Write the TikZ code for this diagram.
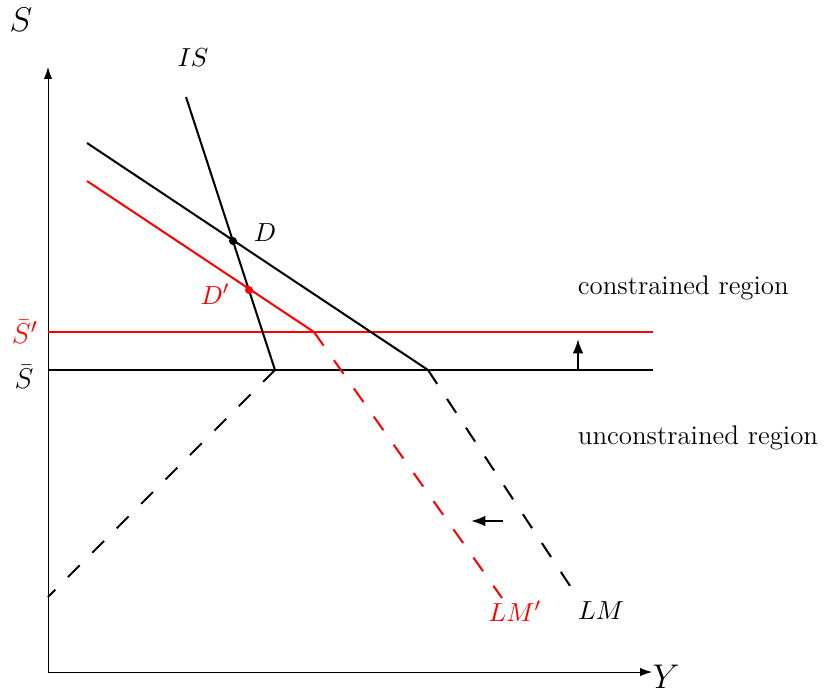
\documentclass[tikz,border=0pt]{standalone}
\usetikzlibrary{arrows.meta}
\begin{document}
\begin{tikzpicture}[x=0.42pt,y=-0.42pt,
  axis/.style={line width=0.35pt,-{Latex[length=5pt,width=3.5pt]}},
  curve/.style={line width=0.85pt},
  dsh/.style={line width=0.85pt,dash pattern=on 7pt off 7.5pt},
  movearrow/.style={line width=0.85pt,-{Latex[length=6pt,width=4.5pt]}},
  lbl/.style={inner sep=1pt,font=\fontsize{11.3}{13}\selectfont},
  midlbl/.style={inner sep=0pt,font=\fontsize{13}{15}\selectfont},
  biglbl/.style={inner sep=1pt,font=\fontsize{14}{16}\selectfont}]
\useasboundingbox (0,0) rectangle (825,689);
% axes
\coordinate (O) at (48,672);
\coordinate (Ytop) at (48,67);
\coordinate (Xend) at (652,672);
\draw[axis] (O) -- (Ytop);
\draw[axis] (O) -- (Xend);
\node[biglbl] (Slab) at (21,20) {$S$};
\node[biglbl] (Ylab) at (666,677) {$Y$};
% key points
\coordinate (ISt) at (186,97);
\coordinate (ISb) at (275,370);
\coordinate (LMt) at (87,143);
\coordinate (LMk) at (428,370);
\coordinate (LMe) at (578,598);
\coordinate (LMpt) at (87,181);
\coordinate (LMpk) at (314,332);
\coordinate (LMpe) at (502,598);
\coordinate (Sl) at (48,370);
\coordinate (Sr) at (653,370);
\coordinate (Spl) at (48,332);
\coordinate (Spr) at (653,332);
\coordinate (Dl) at (48,597);
% horizontals
\draw[curve] (Sl) -- (Sr);
\draw[curve,red] (Spl) -- (Spr);
% IS
\draw[curve] (ISt) -- (ISb);
\draw[dsh] (ISb) -- (Dl);
% LM
\draw[curve] (LMt) -- (LMk);
\draw[dsh] (LMk) -- (LMe);
% LM'
\draw[curve,red] (LMpt) -- (LMpk);
\draw[dsh,red] (LMpk) -- (LMpe);
% points
\fill (233,241) circle (4) coordinate (D);
\fill[red] (249,290) circle (4) coordinate (Dp);
\node[lbl] (Dlab) at (265,233) {$D$};
\node[lbl,red] (Dplab) at (215,294) {$D'$};
% arrows
\coordinate (A1s) at (578,370);
\coordinate (A1e) at (578,339);
\draw[movearrow] (A1s) -- (A1e);
\coordinate (A2s) at (503,521);
\coordinate (A2e) at (471,521);
\draw[movearrow] (A2s) -- (A2e);
% labels
\node[lbl] (ISlab) at (193,58) {$IS$};
\node[lbl] (LMlab) at (601,611) {$LM$};
\node[lbl,red] (LMplab) at (515,611) {$LM'$};
\node[midlbl,red] (Sbp) at (25,332) {$\bar S'$};
\node[midlbl] (Sb) at (24,377) {$\bar S$};
\node[lbl,anchor=west] (cr) at (575,288) {constrained region};
\node[lbl,anchor=west] (ur) at (575,438) {unconstrained region};
\end{tikzpicture}
\end{document}
